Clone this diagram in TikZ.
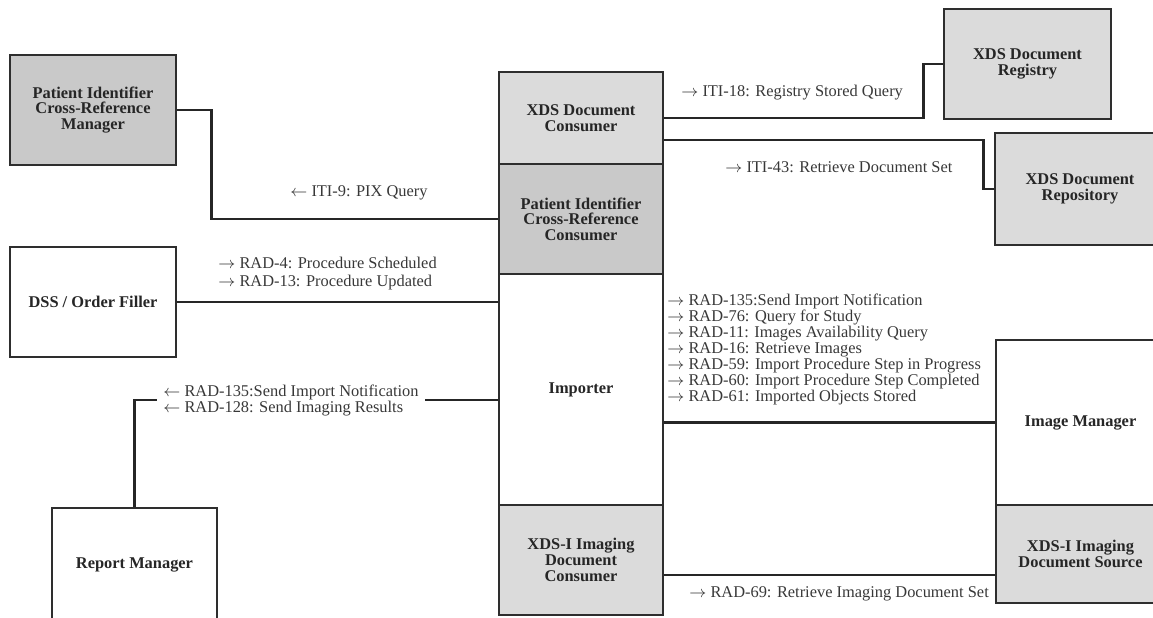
\documentclass[tikz,border=0pt]{standalone}
\usepackage{fontspec}
\setmainfont{Liberation Serif}
\definecolor{boxdark}{gray}{0.79}
\definecolor{boxlight}{gray}{0.86}
\definecolor{edgegray}{gray}{0.18}
\definecolor{msggray}{gray}{0.22}
\newcommand{\toR}{$\rightarrow$}
\newcommand{\toL}{$\leftarrow$}
\begin{document}
\begin{tikzpicture}[
       x=0.5pt, y=-0.5pt,
       actor/.style={
         draw=edgegray,
         fill=white,
         line width=1.3pt,
         inner sep=0pt,
         align=center,
         text=black!85,
         font=\fontsize{8.2}{7.8}\selectfont\bfseries
       },
       actordark/.style={actor, fill=boxdark},
       actorlight/.style={actor, fill=boxlight},
       link/.style={draw=black!85, line width=1.4pt},
       msg/.style={
         anchor=west,
         align=left,
         inner sep=0pt,
         text=msggray,
         font=\fontsize{8.2}{8}\selectfont
       }
     ]
       \useasboundingbox (0,0) rectangle (1153,617);

       \node (pixmgr) at (93,110) [actordark, minimum width=83pt, minimum height=55pt]
         {Patient Identifier\\Cross-Reference\\Manager};
       \node (dss) at (93,302) [actor, minimum width=83pt, minimum height=55pt]
         {DSS / Order Filler};
       \node (repmgr) at (134.5,565) [actor, minimum width=82.5pt, minimum height=57pt]
         {Report Manager};

       \node (xdscons) at (581,118) [actorlight, minimum width=82pt, minimum height=46pt]
         {XDS Document\\Consumer};
       \node (pixcons) at (581,219) [actordark, minimum width=82pt, minimum height=55pt]
         {Patient Identifier\\Cross-Reference\\Consumer};
       \node (importer) at (581,389.5) [actor, minimum width=82pt, minimum height=115.5pt]
         {Importer};
       \node (xdsicons) at (581,560) [actorlight, minimum width=82pt, minimum height=55pt]
         {XDS-I Imaging\\Document\\Consumer};

       \node (registry) at (1027.5,64) [actorlight, minimum width=83.5pt, minimum height=55pt]
         {XDS Document\\Registry};
       \node (repository) at (1080,189) [actorlight, minimum width=85pt, minimum height=56pt]
         {XDS Document\\Repository};
       \node (imgmgr) at (1080.5,422.5) [actor, minimum width=84.5pt, minimum height=82.5pt]
         {Image Manager};
       \node (xdsisrc) at (1080.5,554) [actorlight, minimum width=84.5pt, minimum height=49pt]
         {XDS-I Imaging\\Document Source};

       \draw[link] (pixmgr.east) -- ++(34,0) |- (pixcons.west);
       \draw[link] (xdscons.east) -| ([shift={(-19,0)}]registry.west) -- (registry.west);
       \draw[link] ([shift={(0,22)}]xdscons.east) -| ([shift={(-10,0)}]repository.west) -- (repository.west);
       \draw[link] (dss.east) -- (dss.east -| importer.west);
       \draw[link] (repmgr.north) |- ([shift={(0,10.5)}]importer.west);
       \draw[link] (imgmgr.west -| importer.east) -- (imgmgr.west);
       \draw[link] ([shift={(0,15)}]xdsicons.east) -- ([shift={(0,21)}]xdsisrc.west);

       \node (iti18) at (681,93) [msg] {\toR\ ITI-18: Registry Stored Query};
       \node (iti43) at (725,167) [msg] {\toR\ ITI-43: Retrieve Document Set};
       \node (iti9) at (290,193) [msg] {\toL\ ITI-9: PIX Query};
       \node (dssmsg) at (218,274) [msg, font=\fontsize{8.2}{9}\selectfont]
         {\toR\ RAD-4: Procedure Scheduled\\\toR\ RAD-13: Procedure Updated};
       \node (repmsg) at (157,400) [msg, fill=white, inner xsep=3pt]
         {\toL\ RAD-135:Send Import Notification\\\toL\ RAD-128: Send Imaging Results};
       \node (impmsg) at (667,349) [msg]
         {\toR\ RAD-135:Send Import Notification\\
          \toR\ RAD-76: Query for Study\\
          \toR\ RAD-11: Images Availability Query\\
          \toR\ RAD-16: Retrieve Images\\
          \toR\ RAD-59: Import Procedure Step in Progress\\
          \toR\ RAD-60: Import Procedure Step Completed\\
          \toR\ RAD-61: Imported Objects Stored};
       \node (rad69) at (689,594) [msg] {\toR\ RAD-69: Retrieve Imaging Document Set};

\end{tikzpicture}
\end{document}
